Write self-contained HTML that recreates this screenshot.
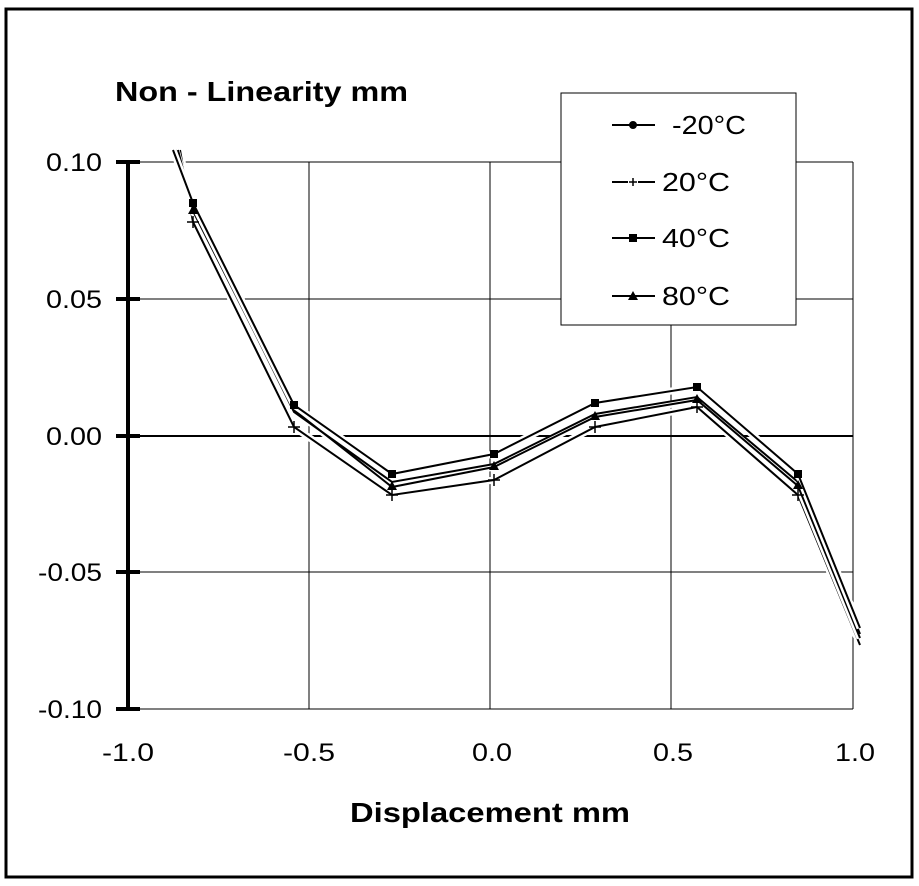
<!DOCTYPE html>
<html><head><meta charset="utf-8"><style>
html,body{margin:0;padding:0;background:#fff;}
svg{display:block;font-family:"Liberation Sans",Arial,sans-serif;}
</style></head><body>
<svg width="919" height="886" viewBox="0 0 919 886" xmlns="http://www.w3.org/2000/svg">
<rect x="0" y="0" width="919" height="886" fill="#fff"/>
<rect x="6" y="9" width="906" height="868" fill="none" stroke="#000" stroke-width="3"/>
<g stroke="#000" stroke-width="1">
<line x1="128" y1="162" x2="853" y2="162"/>
<line x1="128" y1="299" x2="853" y2="299"/>
<line x1="128" y1="572" x2="853" y2="572"/>
<line x1="128" y1="709" x2="853" y2="709"/>
<line x1="309" y1="162" x2="309" y2="709"/>
<line x1="490" y1="162" x2="490" y2="709"/>
<line x1="671" y1="162" x2="671" y2="709"/>
<line x1="853" y1="162" x2="853" y2="709"/>
</g>
<line x1="118" y1="436" x2="853" y2="436" stroke="#000" stroke-width="2"/>
<line x1="128" y1="162" x2="128" y2="709" stroke="#000" stroke-width="4"/>
<g stroke="#000" stroke-width="4">
<line x1="116" y1="162" x2="140" y2="162"/><line x1="116" y1="299" x2="140" y2="299"/>
<line x1="116" y1="436" x2="140" y2="436"/><line x1="116" y1="572" x2="140" y2="572"/>
<line x1="116" y1="709" x2="140" y2="709"/>
</g>
<g font-size="25" text-anchor="end" fill="#000">
<text x="102" y="171" textLength="56" lengthAdjust="spacingAndGlyphs">0.10</text>
<text x="102" y="308" textLength="56" lengthAdjust="spacingAndGlyphs">0.05</text>
<text x="102" y="445" textLength="56" lengthAdjust="spacingAndGlyphs">0.00</text>
<text x="102" y="581" textLength="64" lengthAdjust="spacingAndGlyphs">-0.05</text>
<text x="102" y="718" textLength="64" lengthAdjust="spacingAndGlyphs">-0.10</text>
</g>
<g font-size="25" fill="#000">
<text x="102" y="761" textLength="52" lengthAdjust="spacingAndGlyphs">-1.0</text>
<text x="283" y="761" textLength="52" lengthAdjust="spacingAndGlyphs">-0.5</text>
<text x="472" y="761" textLength="40" lengthAdjust="spacingAndGlyphs">0.0</text>
<text x="653" y="761" textLength="40" lengthAdjust="spacingAndGlyphs">0.5</text>
<text x="835" y="761" textLength="40" lengthAdjust="spacingAndGlyphs">1.0</text>
</g>
<text x="350" y="822" font-size="28" font-weight="bold" textLength="280" lengthAdjust="spacingAndGlyphs">Displacement mm</text>
<text x="115" y="101" font-size="28" font-weight="bold" textLength="293" lengthAdjust="spacingAndGlyphs">Non - Linearity mm</text>
<g fill="none" stroke-linejoin="miter">
<polyline points="180,150 193,222 294,427 392,495 494,480 595,427 697,407 798,495 860,645" stroke="#fff" stroke-width="7"/>
<polyline points="180,150 193,222 294,427 392,495 494,480 595,427 697,407 798,495 860,645" stroke="#000" stroke-width="2"/>
<polyline points="176,150 193,211 294,410 392,487 494,467 595,417 697,400 798,486 860,638" stroke="#fff" stroke-width="7"/>
<polyline points="176,150 193,211 294,410 392,487 494,467 595,417 697,400 798,486 860,638" stroke="#000" stroke-width="2"/>
<polyline points="178,150 193,208 294,412 392,482 494,464 595,414 697,397 798,482 860,634" stroke="#000" stroke-width="2"/>
<polyline points="173,150 193,203 294,405 392,474 494,454 595,403 697,387 798,474 860,628" stroke="#fff" stroke-width="7"/>
<polyline points="173,150 193,203 294,405 392,474 494,454 595,403 697,387 798,474 860,628" stroke="#000" stroke-width="2"/>
</g>
<g fill="#000">
<rect x="189" y="199" width="8" height="8"/><rect x="290" y="401" width="8" height="8"/><rect x="388" y="470" width="8" height="8"/>
<rect x="490" y="450" width="8" height="8"/><rect x="591" y="399" width="8" height="8"/><rect x="693" y="383" width="8" height="8"/>
<rect x="794" y="470" width="8" height="8"/>
<polygon points="193,205 188,214 198,214"/><polygon points="392,481 387,490 397,490"/><polygon points="494,461 489,470 499,470"/>
<polygon points="595,411 590,420 600,420"/><polygon points="697,394 692,403 702,403"/><polygon points="798,480 793,489 803,489"/>
</g>
<g stroke="#000" stroke-width="1.5">
<path d="M187 222h12M193 216v12M288 427h12M294 421v12M386 495h12M392 489v12M488 480h12M494 474v12M589 427h12M595 421v12M691 407h12M697 401v12M792 495h12M798 489v12"/>
</g>
<rect x="561" y="93" width="235" height="232" fill="#fff" stroke="#000" stroke-width="1"/>
<g stroke="#000" stroke-width="2">
<line x1="612" y1="125" x2="655" y2="125"/><line x1="612" y1="182" x2="628" y2="182"/><line x1="638" y1="182" x2="655" y2="182"/>
<line x1="612" y1="238" x2="655" y2="238"/><line x1="612" y1="296" x2="655" y2="296"/>
</g>
<circle cx="633" cy="125" r="4" fill="#000"/>
<path d="M629 182h8M633 178v8" stroke="#000" stroke-width="1.5"/>
<rect x="629" y="234" width="8" height="8" fill="#000"/>
<polygon points="633,291 628,300 638,300" fill="#000"/>
<g font-size="26" fill="#000">
<text x="672" y="134" textLength="74" lengthAdjust="spacingAndGlyphs">-20°C</text>
<text x="662" y="191" textLength="68" lengthAdjust="spacingAndGlyphs">20°C</text>
<text x="662" y="247" textLength="68" lengthAdjust="spacingAndGlyphs">40°C</text>
<text x="662" y="305" textLength="68" lengthAdjust="spacingAndGlyphs">80°C</text>
</g>
</svg>
</body></html>
